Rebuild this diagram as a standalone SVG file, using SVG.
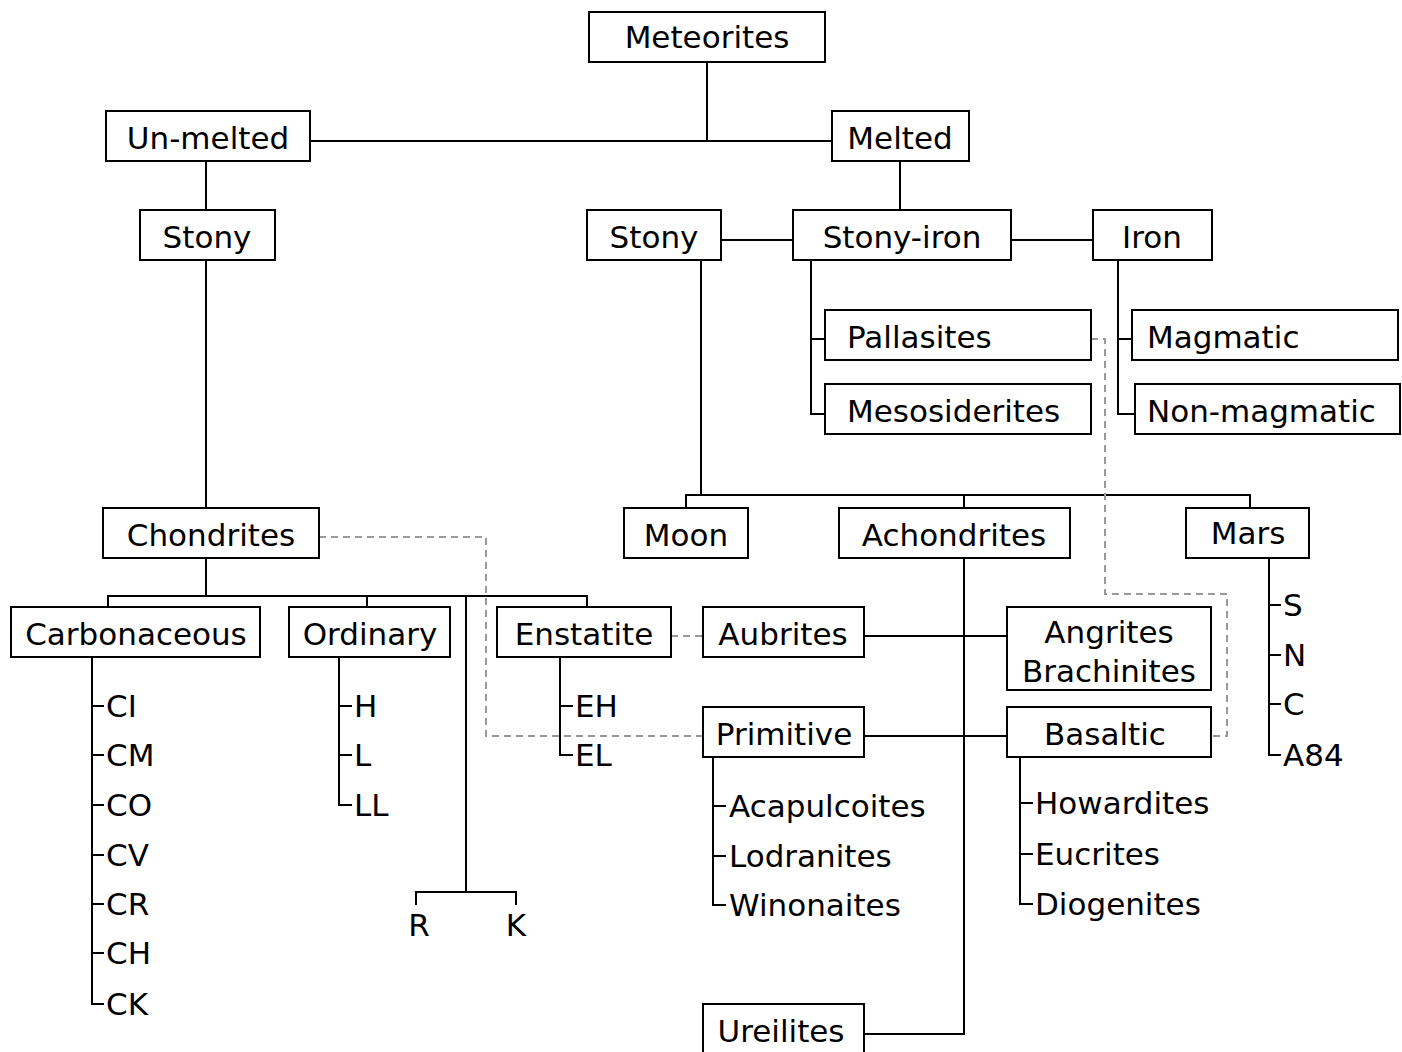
<svg xmlns="http://www.w3.org/2000/svg" width="1402" height="1052" viewBox="0 0 1402 1052">
<style>
rect.n{fill:#fff;stroke:#000;stroke-width:2}
text{font-family:"DejaVu Sans","Liberation Sans",sans-serif;font-size:31px;fill:#000}
text.c{text-anchor:middle}
.ln{fill:none;stroke:#000;stroke-width:2}
.ds{fill:none;stroke:#999;stroke-width:2;stroke-dasharray:7,5}
</style>
<rect width="1402" height="1052" fill="#fff"/>
<g id="connectors">
<path class="ln" d="M707,62V141M310,141H832M206,162V210M900,162V210M206,261V508M721,240H793M1011,240H1093"/>
<path class="ln" d="M811,261V414H825M811,339H825M1118,261V414H1135M1118,339H1132"/>
<path class="ln" d="M701,261V495M686,508V495H1250V508M964,495V508"/>
<path class="ln" d="M206,558V596M108,607V596H587V607M367,596V607M466,596V892M416,905V892H516V905"/>
<path class="ln" d="M92,657V1004H104M92,706H104M92,755H104M92,805H104M92,855H104M92,904H104M92,953H104"/>
<path class="ln" d="M339,657V805H352M339,706H352M339,755H352"/>
<path class="ln" d="M560,657V755H573M560,706H573"/>
<path class="ln" d="M964,558V1034H864M864,636H1007M864,736H1007"/>
<path class="ln" d="M713,757V905H726M713,806H726M713,856H726"/>
<path class="ln" d="M1020,757V904H1033M1020,803H1033M1020,854H1033"/>
<path class="ln" d="M1269,558V755H1281M1269,605H1281M1269,655H1281M1269,704H1281"/>
<path class="ds" d="M319,537H486V736H703"/>
<path class="ds" d="M671,636H703"/>
<path class="ds" d="M1091,339H1105V594H1227V736H1211"/>
</g>
<g id="meteorites"><rect class="n" x="589" y="12" width="236" height="50"/><text class="c" x="707" y="48">Meteorites</text></g>
<g id="unmelted"><rect class="n" x="106" y="111" width="204" height="50"/><text class="c" x="208" y="149">Un-melted</text></g>
<g id="melted"><rect class="n" x="832" y="111" width="137" height="50"/><text class="c" x="900" y="149">Melted</text></g>
<g id="stony-unmelted"><rect class="n" x="140" y="210" width="135" height="50"/><text class="c" x="207" y="248">Stony</text></g>
<g id="stony-melted"><rect class="n" x="587" y="210" width="134" height="50"/><text class="c" x="654" y="248">Stony</text></g>
<g id="stony-iron"><rect class="n" x="793" y="210" width="218" height="50"/><text class="c" x="902" y="248">Stony-iron</text></g>
<g id="iron"><rect class="n" x="1093" y="210" width="119" height="50"/><text class="c" x="1152" y="248">Iron</text></g>
<g id="pallasites"><rect class="n" x="825" y="310" width="266" height="50"/><text x="847" y="348">Pallasites</text></g>
<g id="mesosiderites"><rect class="n" x="825" y="384" width="266" height="50"/><text x="847" y="422">Mesosiderites</text></g>
<g id="magmatic"><rect class="n" x="1132" y="310" width="266" height="50"/><text x="1147" y="348">Magmatic</text></g>
<g id="non-magmatic"><rect class="n" x="1135" y="384" width="265" height="50"/><text x="1147" y="422">Non-magmatic</text></g>
<g id="chondrites"><rect class="n" x="103" y="508" width="216" height="50"/><text class="c" x="211" y="546">Chondrites</text></g>
<g id="moon"><rect class="n" x="624" y="508" width="124" height="50"/><text class="c" x="686" y="546">Moon</text></g>
<g id="achondrites"><rect class="n" x="839" y="508" width="231" height="50"/><text class="c" x="954" y="546">Achondrites</text></g>
<g id="mars"><rect class="n" x="1186" y="508" width="123" height="50"/><text class="c" x="1248" y="544">Mars</text></g>
<g id="carbonaceous"><rect class="n" x="11" y="607" width="249" height="50"/><text class="c" x="136" y="645">Carbonaceous</text></g>
<g id="ordinary"><rect class="n" x="289" y="607" width="161" height="50"/><text class="c" x="370" y="645">Ordinary</text></g>
<g id="enstatite"><rect class="n" x="497" y="607" width="174" height="50"/><text class="c" x="584" y="645">Enstatite</text></g>
<g id="aubrites"><rect class="n" x="703" y="607" width="161" height="50"/><text class="c" x="783" y="645">Aubrites</text></g>
<g id="angrites-brachinites"><rect class="n" x="1007" y="607" width="204" height="83"/><text class="c" x="1109" y="643">Angrites</text><text class="c" x="1109" y="682">Brachinites</text></g>
<g id="primitive"><rect class="n" x="703" y="707" width="161" height="50"/><text class="c" x="784" y="745">Primitive</text></g>
<g id="basaltic"><rect class="n" x="1007" y="707" width="204" height="50"/><text class="c" x="1105" y="745">Basaltic</text></g>
<g id="ureilites"><rect class="n" x="703" y="1004" width="161" height="60"/><text class="c" x="781" y="1042">Ureilites</text></g>
<g id="carbonaceous-groups"><text x="106" y="717">CI</text><text x="106" y="766">CM</text><text x="106" y="816">CO</text><text x="106" y="866">CV</text><text x="106" y="915">CR</text><text x="106" y="964">CH</text><text x="106" y="1015">CK</text></g>
<g id="ordinary-groups"><text x="354" y="717">H</text><text x="354" y="766">L</text><text x="354" y="816">LL</text></g>
<g id="enstatite-groups"><text x="575" y="717">EH</text><text x="575" y="766">EL</text></g>
<g id="r-k-groups"><text class="c" x="419" y="936">R</text><text class="c" x="516" y="936">K</text></g>
<g id="primitive-groups"><text x="729" y="817">Acapulcoites</text><text x="729" y="867">Lodranites</text><text x="729" y="916">Winonaites</text></g>
<g id="basaltic-groups"><text x="1035" y="814">Howardites</text><text x="1035" y="865">Eucrites</text><text x="1035" y="915">Diogenites</text></g>
<g id="mars-groups"><text x="1283" y="616">S</text><text x="1283" y="666">N</text><text x="1283" y="715">C</text><text x="1283" y="766">A84</text></g>
</svg>
